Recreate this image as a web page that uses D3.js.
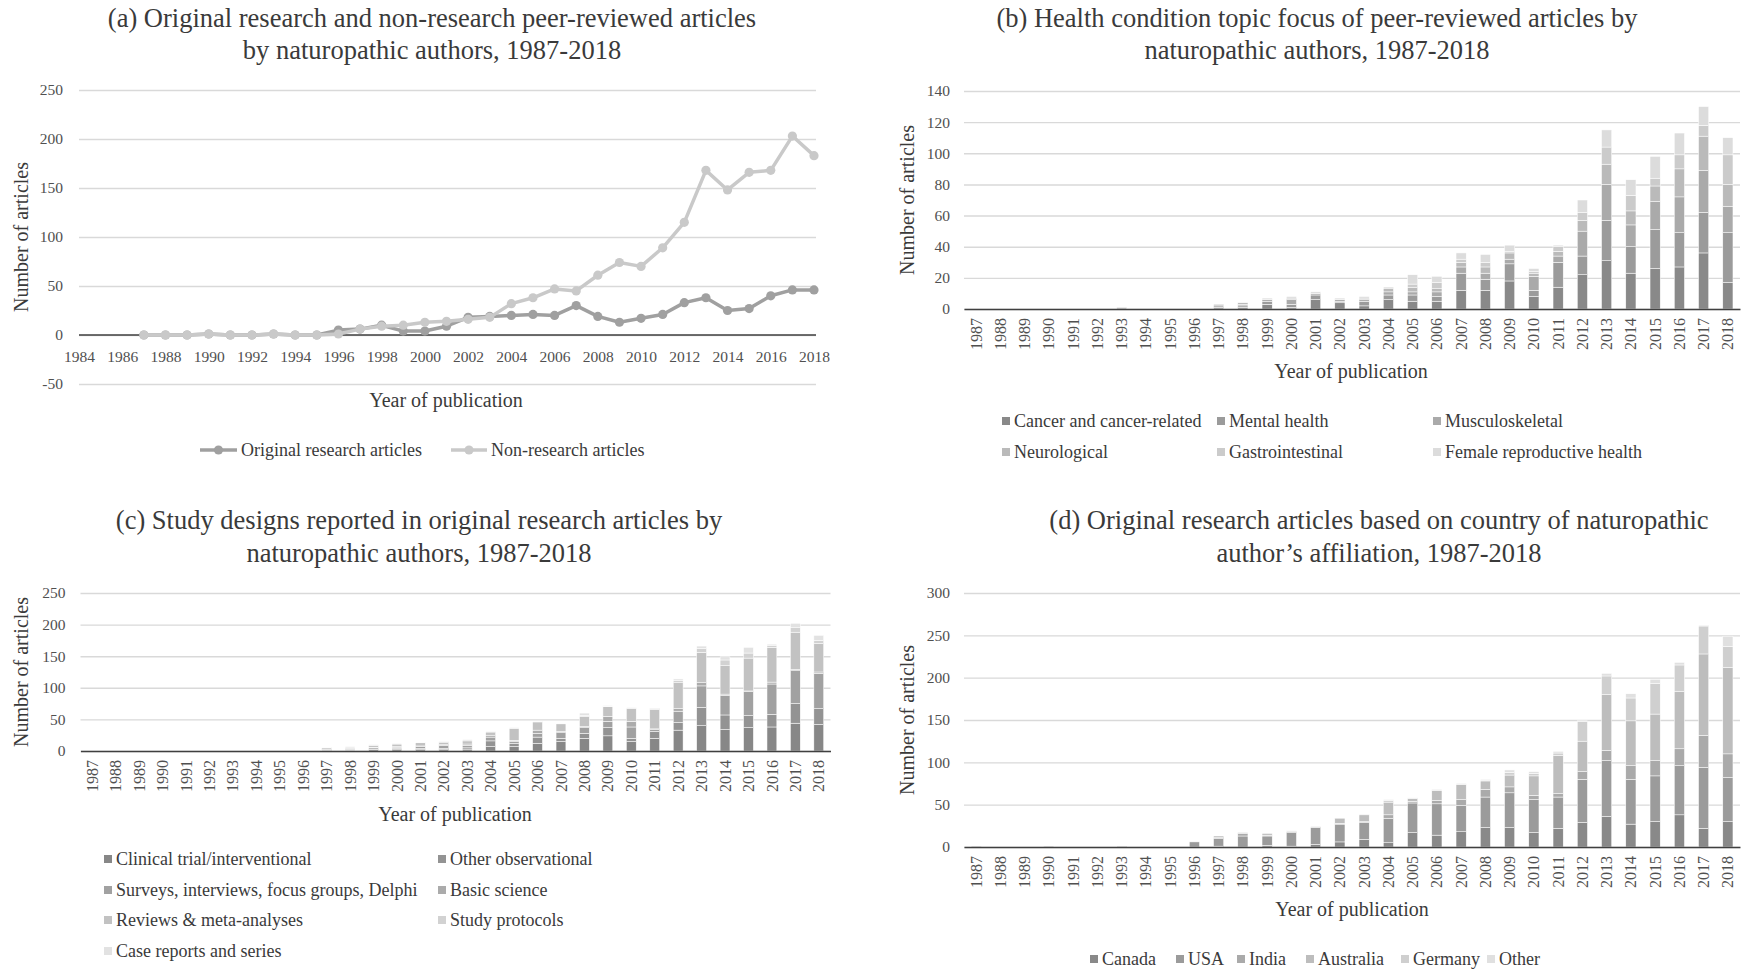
<!DOCTYPE html>
<html><head><meta charset="utf-8">
<script src="https://cdn.jsdelivr.net/npm/d3@7/dist/d3.min.js"></script>
<style>
html,body{margin:0;padding:0;background:#fff;}
svg{display:block;font-family:"Liberation Serif","DejaVu Serif",serif;}
</style></head><body>
<svg id="chart" width="1747" height="971"></svg>
<script>
// ---------------- DATA ----------------
const years = ["1987","1988","1989","1990","1991","1992","1993","1994","1995","1996","1997","1998","1999","2000","2001","2002","2003","2004","2005","2006","2007","2008","2009","2010","2011","2012","2013","2014","2015","2016","2017","2018"];

// (a)
const aYearValues = [1987,1988,1989,1990,1991,1992,1993,1994,1995,1996,1997,1998,1999,2000,2001,2002,2003,2004,2005,2006,2007,2008,2009,2010,2011,2012,2013,2014,2015,2016,2017,2018];
const aXTicks = [1984,1986,1988,1990,1992,1994,1996,1998,2000,2002,2004,2006,2008,2010,2012,2014,2016,2018];
const aYTicks = [-50,0,50,100,150,200,250];
const aSeriesNames = ["Original research articles","Non-research articles"];
const originalResearch = [0,0,0,1,0,0,1,0,0,5,6,10,4,4,9,18,19,20,21,20,30,19,13,17,21,33,38,25,27,40,46,46];
const nonResearch      = [0,0,0,1,0,0,1,0,0,1,6,9,10,13,14,16,18,32,38,47,45,61,74,70,89,115,168,148,166,168,203,183];

// (b)
const bYTicks = [0,20,40,60,80,100,120,140];
const bSeriesNames = ["Cancer and cancer-related","Mental health","Musculoskeletal","Neurological","Gastrointestinal","Female reproductive health"];
const bCancer  = [0,0,0,0,0,0,0,0,0,0, 0,1,3,1,6,4,2,6,5,5, 12,12,18,8,14,22,31,23,26,27,36,17];
const bMental  = [0,0,0,0,0,0,0,0,0,0, 1,1,2,2,3,1,3,3,4,3, 11,7,11,4,16,12,26,17,25,22,26,32];
const bMusculo = [0,0,0,0,0,0,0,0,0,0, 1,1,1,3,1,1,1,2,2,3, 4,4,3,9,4,16,23,14,18,23,27,17];
const bNeuro   = [0,0,0,0,0,0,1,0,0,0, 1,1,0,1,0,0,1,2,3,2, 3,4,4,2,3,7,13,9,10,18,22,14];
const bGastro  = [0,0,0,0,0,0,0,0,0,0, 0,0,0,0,0,0,0,1,2,4, 2,3,1,1,3,5,11,10,5,9,7,19];
const bFemale  = [0,0,0,0,0,0,0,0,0,0, 0,0,1,1,1,1,1,0,6,4, 4,5,4,2,1,8,11,10,14,14,12,11];

// (c)
const cYTicks = [0,50,100,150,200,250];
const cSeriesNames = ["Clinical trial/interventional","Other observational","Surveys, interviews, focus groups, Delphi","Basic science","Reviews & meta-analyses","Study protocols","Case reports and series"];
const cClinical  = [0,0,0,0,0,0,0,0,0,0, 1,1,2,2,2,2,3,7,7,12, 15,20,24,15,20,33,40,34,37,38,44,42];
const cOtherObs  = [0,0,0,0,0,0,0,0,0,0, 1,1,1,2,2,2,2,9,5,10, 5,8,13,5,11,12,29,23,19,20,31,25];
const cSurveys   = [0,0,0,0,0,0,0,0,0,0, 1,1,2,2,3,5,4,6,3,6, 9,9,10,18,3,18,34,31,38,48,52,56];
const cBasic     = [0,0,0,0,0,0,0,0,0,0, 0,1,1,1,1,1,2,3,2,5, 2,2,8,9,1,4,5,2,1,3,2,2];
const cReviews   = [0,0,0,0,0,0,0,0,0,0, 2,2,3,4,5,4,5,5,19,13, 12,16,15,20,31,41,48,45,52,55,59,45];
const cProtocols = [0,0,0,0,0,0,0,0,0,0, 0,0,0,0,0,0,0,0,0,0, 0,1,1,1,1,4,6,9,8,3,7,5];
const cCases     = [0,0,0,0,0,0,0,0,0,0, 1,1,1,1,1,1,2,1,1,1, 1,4,1,1,1,2,4,5,9,2,7,8];

// (d)
const dYTicks = [0,50,100,150,200,250,300];
const dSeriesNames = ["Canada","USA","India","Australia","Germany","Other"];
const dCanada    = [0,0,0,0,0,0,0,0,0,0, 1,0,2,1,3,6,9,5,17,14, 18,23,23,17,22,29,36,27,30,38,22,30];
const dUSA       = [1,0,0,1,0,0,1,0,0,6, 9,13,11,16,20,21,20,29,35,37, 31,36,41,39,37,51,66,53,54,58,72,52];
const dIndia     = [0,0,0,0,0,0,0,0,0,0, 1,3,1,1,0,1,1,4,2,4, 7,9,7,5,4,9,12,16,18,20,38,28];
const dAustralia = [0,0,0,0,0,0,0,0,0,0, 2,1,2,1,1,6,8,15,3,12, 18,10,14,23,45,36,66,53,55,68,96,102];
const dGermany   = [0,0,0,0,0,0,0,0,0,0, 0,0,0,0,0,0,0,2,0,0, 0,1,3,3,3,23,22,27,36,31,33,25];
const dOther     = [0,0,0,0,0,0,0,0,0,0, 0,0,0,0,0,0,1,1,1,1, 1,1,3,2,2,1,3,5,5,3,1,12];

// ---------------- STYLE ----------------
const FONT_TITLE = 26.5, FONT_TICK = 15.5, FONT_AXIS = 20, FONT_LEG = 18;
const C_TEXT = "#3a3a3a", C_TICK = "#505050", C_GRID = "#d9d9d9", C_AXIS = "#404040";
const bColors = ["#898989","#9b9b9b","#aaaaaa","#bababa","#cbcbcb","#dcdcdc"];
const cColors = ["#878787","#939393","#a1a1a1","#ababab","#c2c2c2","#d2d2d2","#e2e2e2"];
const dColors = ["#898989","#9b9b9b","#aaaaaa","#bdbdbd","#cfcfcf","#e0e0e0"];
const aColors = ["#a0a0a0","#c9c9c9"];
const FAMILY = '"Liberation Serif","DejaVu Serif",serif';
const plainNum = d => String(d);

const svg = d3.select("#chart");

function title(lines, cx, cys){
  lines.forEach((t,i)=>{
    svg.append("text").attr("x",cx).attr("y",cys[i]).attr("dy","0.35em")
      .attr("text-anchor","middle").attr("fill",C_TEXT).attr("font-size",FONT_TITLE).text(t);
  });
}
function yTitle(cx, cy){
  svg.append("text").attr("transform",`translate(${cx},${cy}) rotate(-90)`)
    .attr("dy","0.35em").attr("text-anchor","middle").attr("fill",C_TEXT)
    .attr("font-size",FONT_AXIS).text("Number of articles");
}
function xTitle(cx, cy){
  svg.append("text").attr("x",cx).attr("y",cy).attr("dy","0.35em")
    .attr("text-anchor","middle").attr("fill",C_TEXT).attr("font-size",FONT_AXIS).text("Year of publication");
}
function styleGrid(g){
  g.select(".domain").remove();
  g.selectAll(".tick line").attr("stroke",C_GRID).attr("stroke-width",1.4);
  g.selectAll(".tick text").attr("fill",C_TICK).attr("font-size",FONT_TICK).attr("font-family",FAMILY);
}

// ---------------- PANEL A ----------------
(function(){
  const x = d3.scaleLinear().domain([1984,2018]).range([79,814]);
  const y = d3.scaleLinear().domain([-50,250]).range([384,90]);
  const gy = svg.append("g").attr("transform","translate(79,0)")
    .call(d3.axisLeft(y).tickValues(aYTicks).tickFormat(plainNum).tickSize(-737).tickPadding(16));
  styleGrid(gy);
  const gx = svg.append("g").attr("transform",`translate(0,${y(0)})`)
    .call(d3.axisBottom(x).tickValues(aXTicks).tickFormat(plainNum).tickSize(0).tickSizeOuter(0).tickPadding(16));
  gx.select(".domain").attr("stroke",C_AXIS).attr("stroke-width",1.5).attr("d","M79,0H816");
  gx.selectAll(".tick text").attr("fill",C_TICK).attr("font-size",FONT_TICK).attr("font-family",FAMILY);

  const seriesList = [originalResearch, nonResearch];
  const line = d3.line().x((d,i)=>x(aYearValues[i])).y(d=>y(d));
  seriesList.forEach((s,k)=>{
    svg.append("path").datum(s).attr("d",line).attr("fill","none")
      .attr("stroke",aColors[k]).attr("stroke-width",3.5).attr("stroke-linejoin","round");
    svg.append("g").selectAll("circle").data(s).join("circle")
      .attr("cx",(d,i)=>x(aYearValues[i])).attr("cy",d=>y(d)).attr("r",4.6).attr("fill",aColors[k]);
  });
  title(["(a) Original research and non-research peer-reviewed articles","by naturopathic authors, 1987-2018"],432,[18,50]);
  yTitle(21,237);
  xTitle(446,400);
  const legX = [[200,237,241],[451,487,491]];
  aSeriesNames.forEach((n,k)=>{
    const [x1,x2,tx]=legX[k];
    svg.append("line").attr("x1",x1).attr("x2",x2).attr("y1",450).attr("y2",450)
      .attr("stroke",aColors[k]).attr("stroke-width",3.5);
    svg.append("circle").attr("cx",(x1+x2)/2).attr("cy",450).attr("r",4.6).attr("fill",aColors[k]);
    svg.append("text").attr("x",tx).attr("y",450).attr("dy","0.35em").attr("fill",C_TEXT)
      .attr("font-size",FONT_LEG).text(n);
  });
})();

// ---------------- STACKED PANELS ----------------
function stackedPanel(o){
  const x = d3.scaleBand().domain(years).range(o.xRange).paddingInner(0.58).paddingOuter(0.29);
  const y = d3.scaleLinear().domain([0,o.yMax]).range([o.y0,o.yTop]);
  const gy = svg.append("g").attr("transform",`translate(${o.xRange[0]},0)`)
    .call(d3.axisLeft(y).tickValues(o.yTicks).tickFormat(plainNum).tickSize(-(o.xRange[1]-o.xRange[0])).tickPadding(o.tickPad));
  styleGrid(gy);
  const rows = years.map((yr,i)=>{
    const r = {year:yr};
    o.names.forEach((n,k)=>{ r[n]=o.series[k][i]; });
    return r;
  });
  const stacked = d3.stack().keys(o.names)(rows);
  svg.append("g").selectAll("g").data(stacked).join("g")
    .attr("fill",(d,k)=>o.colors[k])
    .selectAll("rect").data(d=>d.filter(e=>e[1]-e[0]>0)).join("rect")
      .attr("x",d=>x(d.data.year)).attr("width",x.bandwidth())
      .attr("y",d=>y(d[1])).attr("height",d=>y(d[0])-y(d[1]))
      .attr("stroke","#ffffff").attr("stroke-width",0.5);
  const gx = svg.append("g").attr("transform",`translate(0,${y(0)})`)
    .call(d3.axisBottom(x).tickSize(0).tickSizeOuter(0));
  gx.select(".domain").attr("stroke",C_AXIS).attr("stroke-width",1.5);
  gx.selectAll(".tick text").attr("fill",C_TICK).attr("font-size",16).attr("font-family",FAMILY)
    .attr("transform","rotate(-90)").attr("text-anchor","end")
    .attr("x",-9).attr("y",0).attr("dy","0.35em");
  title(o.title,o.titleX,o.titleY);
  yTitle(o.yTitlePos[0],o.yTitlePos[1]);
  xTitle(o.xTitlePos[0],o.xTitlePos[1]);
  o.names.forEach((n,k)=>{
    const [tx,ty]=o.legend[k];
    svg.append("rect").attr("x",tx-12).attr("y",ty-4).attr("width",8).attr("height",8).attr("fill",o.colors[k]);
    svg.append("text").attr("x",tx).attr("y",ty).attr("dy","0.35em").attr("fill",C_TEXT)
      .attr("font-size",FONT_LEG).text(n);
  });
}

stackedPanel({
  xRange:[964,1740], yMax:140, y0:309, yTop:91, yTicks:bYTicks, tickPad:14,
  names:bSeriesNames, series:[bCancer,bMental,bMusculo,bNeuro,bGastro,bFemale], colors:bColors,
  title:["(b) Health condition topic focus of peer-reviewed articles by","naturopathic authors, 1987-2018"],
  titleX:1317, titleY:[18,50], yTitlePos:[907,200], xTitlePos:[1351,371],
  legend:[[1014,421],[1229,421],[1445,421],[1014,452],[1229,452],[1445,452]]
});

stackedPanel({
  xRange:[80.5,830.5], yMax:250, y0:751, yTop:593, yTicks:cYTicks, tickPad:15,
  names:cSeriesNames, series:[cClinical,cOtherObs,cSurveys,cBasic,cReviews,cProtocols,cCases], colors:cColors,
  title:["(c) Study designs reported in original research articles by","naturopathic authors, 1987-2018"],
  titleX:419, titleY:[520,553], yTitlePos:[21,672], xTitlePos:[455,814],
  legend:[[116,859],[450,859],[116,890],[450,890],[116,920],[450,920],[116,951]]
});

stackedPanel({
  xRange:[964,1740], yMax:300, y0:847, yTop:593, yTicks:dYTicks, tickPad:14,
  names:dSeriesNames, series:[dCanada,dUSA,dIndia,dAustralia,dGermany,dOther], colors:dColors,
  title:["(d) Original research articles based on country of naturopathic","author\u2019s affiliation, 1987-2018"],
  titleX:1379, titleY:[520,553], yTitlePos:[907,720], xTitlePos:[1352,909],
  legend:[[1102,959],[1188,959],[1249,959],[1318,959],[1413,959],[1499,959]]
});
</script>
</body></html>
